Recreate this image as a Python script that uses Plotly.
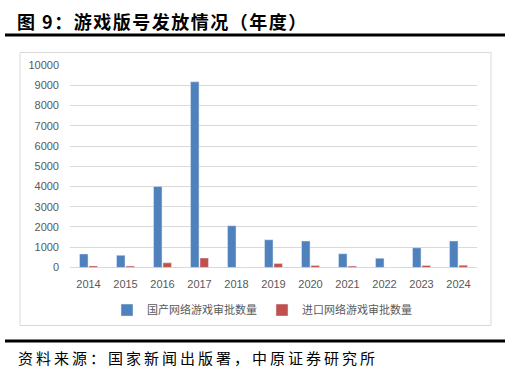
import plotly.graph_objects as go

years = ["2014", "2015", "2016", "2017", "2018", "2019", "2020", "2021", "2022", "2023", "2024"]
domestic = [665, 600, 4000, 9170, 2060, 1370, 1305, 676, 455, 970, 1306]
imported = [75, 65, 225, 465, 0, 190, 95, 65, 0, 98, 110]
series_names = ["国产网络游戏审批数量", "进口网络游戏审批数量"]
y_ticks = [0, 1000, 2000, 3000, 4000, 5000, 6000, 7000, 8000, 9000, 10000]
y_tick_labels = [str(v) for v in y_ticks]

W, H = 511, 378
BLUE = "#4F81BD"
RED = "#C0504D"
GRAY_TXT = "#595959"
GRID = "#D9D9D9"
CJK = "Noto Sans CJK SC"
LAT = "Liberation Sans"

fig = go.Figure()
fig.add_trace(go.Bar(x=years, y=domestic, name=series_names[0], marker_color=BLUE))
fig.add_trace(go.Bar(x=years, y=imported, name=series_names[1], marker_color=RED))

def px(x):
    return x / W

def py(y):
    return 1 - y / H

fig.update_layout(
    width=W, height=H,
    margin=dict(l=0, r=0, t=0, b=0),
    paper_bgcolor="white", plot_bgcolor="white",
    barmode="group", bargap=0.49, bargroupgap=0.1,
    showlegend=True,
    legend=dict(orientation="h", x=px(262), xanchor="center", y=py(314), yanchor="middle",
                font=dict(family=CJK, size=11, color=GRAY_TXT), itemwidth=30,
                bgcolor="rgba(0,0,0,0)"),
    xaxis=dict(domain=[px(70), px(477)], showgrid=False, showline=False, zeroline=False,
               tickfont=dict(family=LAT, size=11, color=GRAY_TXT), ticks="", ticklabelstandoff=9),
    yaxis=dict(domain=[py(270), py(61)], range=[0, 10000], tickvals=y_ticks, ticktext=y_tick_labels,
               showgrid=True, gridcolor=GRID, gridwidth=1, zeroline=True, zerolinecolor=GRID,
               zerolinewidth=1, showline=False, ticks="",
               tickfont=dict(family=LAT, size=11, color=GRAY_TXT), ticklabelstandoff=10),
    shapes=[
        dict(type="rect", xref="paper", yref="paper", x0=px(20), x1=px(491), y0=py(330), y1=py(48),
             line=dict(color=GRID, width=1), layer="below"),
        dict(type="line", xref="paper", yref="paper", x0=px(5), x1=px(505), y0=py(30), y1=py(30),
             line=dict(color="black", width=3)),
        dict(type="line", xref="paper", yref="paper", x0=px(5), x1=px(505), y0=py(346), y1=py(346),
             line=dict(color="black", width=3)),
    ],
    annotations=[
        dict(text="<b>图 9：游戏版号发放情况（年度）</b>", xref="paper", yref="paper",
             x=px(162), y=py(15), xanchor="center", yanchor="middle", showarrow=False,
             font=dict(family=CJK, size=18, color="black")),
        dict(text="资料来源：国家新闻出版署，中原证券研究所", xref="paper", yref="paper",
             x=px(198), y=py(363), xanchor="center", yanchor="middle", showarrow=False,
             font=dict(family=CJK, size=15, color="black")),
    ],
)

post = """
var sp = {0: '1.5px', 1: '3px'};
document.querySelectorAll('.annotation-text').forEach(function(t, i){
  if (sp[i] !== undefined) { t.style.letterSpacing = sp[i]; }
});
"""

fig.write_html("out.html", post_script=post)
